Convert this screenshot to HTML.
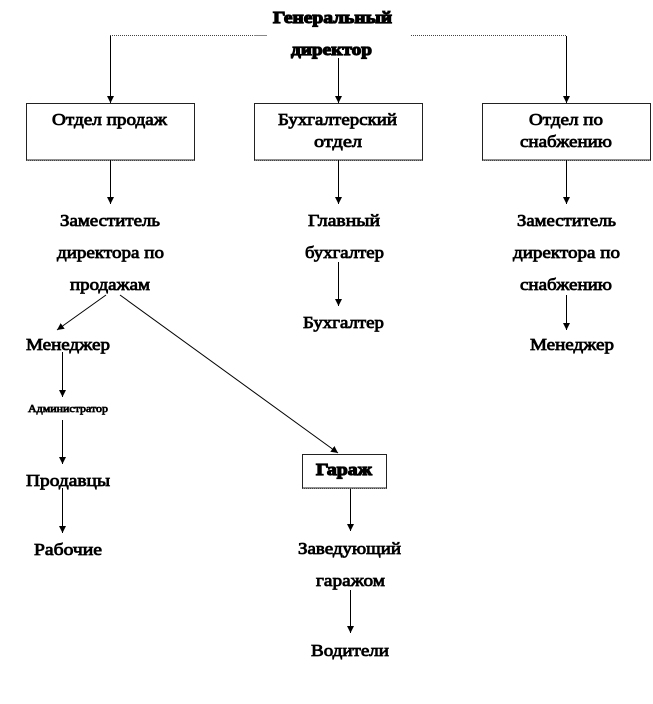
<!DOCTYPE html>
<html>
<head>
<meta charset="utf-8">
<style>
html,body{margin:0;padding:0;background:#fff;width:653px;height:704px;overflow:hidden}
svg{display:block}
text{font-family:"Liberation Serif",serif;font-size:17px;fill:#000;stroke:#000;stroke-width:.8px}
.b{stroke-width:1.15px;font-weight:bold}
.l{stroke:#000;stroke-width:1;fill:none}
.d{stroke:#444;stroke-width:1;stroke-dasharray:1 1;fill:none}
.r{fill:#fff;stroke:#222;stroke-width:1}
</style>
</head>
<body>
<svg width="653" height="704" viewBox="0 0 653 704" xmlns="http://www.w3.org/2000/svg">
<defs>
<marker id="a" markerUnits="userSpaceOnUse" markerWidth="8" markerHeight="8" refX="7" refY="4" orient="auto">
<path d="M0 .5L7 4L0 7.500Z" fill="#000"/>
</marker>
</defs>

<path class="l" d="M110.500 36V103" marker-end="url(#a)"/>
<path class="d" d="M110 35.5H255"/>
<path d="M254 35.5H267" stroke="#888" stroke-width="1"/>
<path class="l" d="M566.500 36V103" marker-end="url(#a)"/>
<path class="d" d="M411 35.5H566"/>
<path class="l" d="M338.500 58V103" marker-end="url(#a)"/>

<rect class="r" x="26.500" y="103.500" width="168" height="56.500"/>
<rect class="r" x="254.500" y="103.500" width="168" height="56.500"/>
<rect class="r" x="482.500" y="103.500" width="168" height="56.500"/>
<path class="d" d="M26 160.500H195M254 160.500H423M482 160.500H651"/>

<path class="l" d="M110.500 160V204" marker-end="url(#a)"/>
<path class="l" d="M338.500 160V204" marker-end="url(#a)"/>
<path class="l" d="M566.500 160V204" marker-end="url(#a)"/>

<path class="l" d="M106 295L57 330" marker-end="url(#a)"/>
<path class="l" d="M120 295L338 453" marker-end="url(#a)"/>
<path class="l" d="M62.500 352V397" marker-end="url(#a)"/>
<path class="l" d="M62.500 420V464" marker-end="url(#a)"/>
<path class="l" d="M62.500 488V533" marker-end="url(#a)"/>
<path class="l" d="M338.500 262V306" marker-end="url(#a)"/>
<path class="l" d="M566.500 295V330" marker-end="url(#a)"/>
<path class="l" d="M350.500 488V531" marker-end="url(#a)"/>
<path class="l" d="M350.500 590V633" marker-end="url(#a)"/>

<rect class="r" x="302.500" y="454.500" width="84" height="33.500"/>
<path class="d" d="M302 488.500H387"/>

<text class="b" x="273" y="23" textLength="119" lengthAdjust="spacingAndGlyphs">Генеральный</text>
<text class="b" x="291" y="55" textLength="81" lengthAdjust="spacingAndGlyphs">директор</text>
<text x="52" y="125" textLength="115" lengthAdjust="spacingAndGlyphs">Отдел продаж</text>
<text x="278" y="125" textLength="119" lengthAdjust="spacingAndGlyphs">Бухгалтерский</text>
<text x="314" y="147" textLength="48" lengthAdjust="spacingAndGlyphs">отдел</text>
<text x="529" y="125" textLength="74" lengthAdjust="spacingAndGlyphs">Отдел по</text>
<text x="520" y="147" textLength="92" lengthAdjust="spacingAndGlyphs">снабжению</text>

<text x="60" y="226" textLength="100" lengthAdjust="spacingAndGlyphs">Заместитель</text>
<text x="57" y="258" textLength="107" lengthAdjust="spacingAndGlyphs">директора по</text>
<text x="70" y="290" textLength="80" lengthAdjust="spacingAndGlyphs">продажам</text>

<text x="308" y="226" textLength="72" lengthAdjust="spacingAndGlyphs">Главный</text>
<text x="305" y="258" textLength="79" lengthAdjust="spacingAndGlyphs">бухгалтер</text>
<text x="303" y="328" textLength="81" lengthAdjust="spacingAndGlyphs">Бухгалтер</text>

<text x="517" y="226" textLength="99" lengthAdjust="spacingAndGlyphs">Заместитель</text>
<text x="513" y="258" textLength="107" lengthAdjust="spacingAndGlyphs">директора по</text>
<text x="520" y="290" textLength="92" lengthAdjust="spacingAndGlyphs">снабжению</text>
<text x="530" y="350" textLength="84" lengthAdjust="spacingAndGlyphs">Менеджер</text>

<text x="26" y="350" textLength="84" lengthAdjust="spacingAndGlyphs">Менеджер</text>
<text x="28" y="412" textLength="80" lengthAdjust="spacingAndGlyphs" style="font-size:10px;stroke-width:.7px">Администратор</text>
<text x="26" y="486" textLength="84" lengthAdjust="spacingAndGlyphs">Продавцы</text>
<text x="34" y="555" textLength="68" lengthAdjust="spacingAndGlyphs">Рабочие</text>

<text class="b" x="316" y="475" textLength="56" lengthAdjust="spacingAndGlyphs">Гараж</text>
<text x="298" y="554" textLength="103" lengthAdjust="spacingAndGlyphs">Заведующий</text>
<text x="316" y="586" textLength="69" lengthAdjust="spacingAndGlyphs">гаражом</text>
<text x="311" y="656" textLength="78" lengthAdjust="spacingAndGlyphs">Водители</text>
</svg>
</body>
</html>
